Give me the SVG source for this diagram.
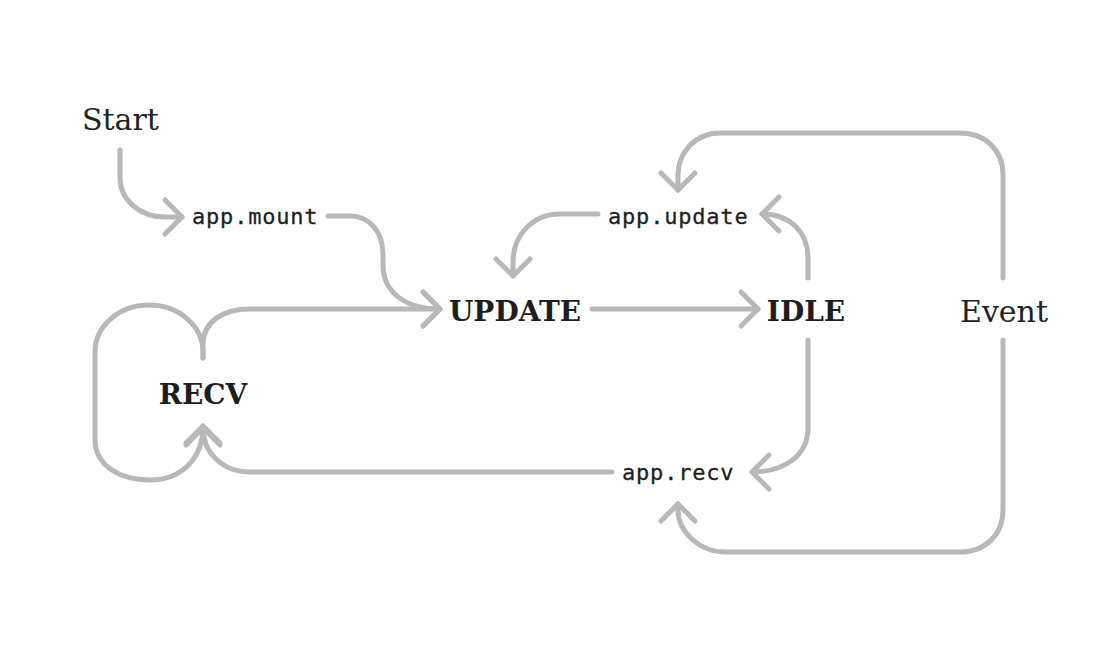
<svg xmlns="http://www.w3.org/2000/svg" width="1110" height="662" viewBox="0 0 1110 662">
<style>
.c{fill:none;stroke:#b8b8b8;stroke-width:5;stroke-linecap:round;stroke-linejoin:round}
.s{font-family:"DejaVu Serif","Liberation Serif",serif;font-size:30px;fill:#222}
.b{font-family:"DejaVu Serif","Liberation Serif",serif;font-size:28px;font-weight:bold;fill:#1e1e1e}
.m{font-family:"DejaVu Sans Mono","Liberation Mono",monospace;font-size:22px;letter-spacing:0.8px;fill:#1e1e1e;stroke:#1e1e1e;stroke-width:0.3px}
</style>
<defs>
<marker id="ah" markerUnits="userSpaceOnUse" viewBox="-25 -25 30 50" markerWidth="30" markerHeight="50" refX="0" refY="0" orient="auto" overflow="visible">
<path d="M-17,-17 L0,0 L-17,17" fill="none" stroke="#b8b8b8" stroke-width="5" stroke-linecap="round" stroke-linejoin="round"/>
</marker>
</defs>
<rect width="1110" height="662" fill="#fff"/>
<g id="connectors">
<path class="c" marker-end="url(#ah)" d="M120,150 V178 C120,200 140,217 165,217 H182"/>
<path class="c" marker-end="url(#ah)" d="M328,216 H350 C370,216 383,232 383,255 V265 C383,292 405,309 440,309"/>
<path class="c" marker-end="url(#ah)" d="M203,358 V345 C203,322 222,309 250,309 H440"/>
<path class="c" marker-end="url(#ah)" d="M203,358 V352 A54,47 0 0 0 95,352 V440 C95,464 118,480 150,480 C180,480 203,460 203,426"/>
<path class="c" marker-end="url(#ah)" d="M592,309 H758"/>
<path class="c" marker-end="url(#ah)" d="M808,278 V258 C808,232 790,214 762,214"/>
<path class="c" marker-end="url(#ah)" d="M598,214 H560 C533,214 513,235 513,262 V276"/>
<path class="c" marker-end="url(#ah)" d="M1003,278 V175 C1003,150 985,133 960,133 H720 C695,133 678,153 678,175 V190"/>
<path class="c" marker-end="url(#ah)" d="M808,340 V428 C808,455 785,472 752,472"/>
<path class="c" marker-end="url(#ah)" d="M1003,340 V510 C1003,535 985,552 960,552 H725 C700,552 678,532 678,510 V504"/>
<path class="c" marker-end="url(#ah)" d="M612,472 H250 C222,472 203,452 203,428"/>
</g>
<g id="start"><text class="s" x="82" y="130">Start</text></g>
<g id="event"><text class="s" x="960" y="322">Event</text></g>
<g id="update"><text class="b" x="515" y="321" text-anchor="middle">UPDATE</text></g>
<g id="idle"><text class="b" x="806" y="321" text-anchor="middle">IDLE</text></g>
<g id="recv"><text class="b" x="203" y="404" text-anchor="middle">RECV</text></g>
<g id="app-mount"><text class="m" x="192" y="224">app.mount</text></g>
<g id="app-update"><text class="m" x="608" y="224">app.update</text></g>
<g id="app-recv"><text class="m" x="622" y="480">app.recv</text></g>
</svg>
